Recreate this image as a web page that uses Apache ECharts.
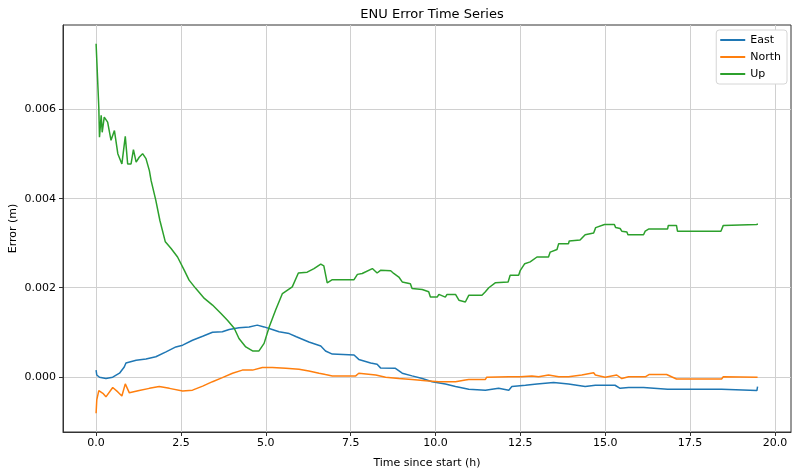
<!DOCTYPE html>
<html>
<head>
<meta charset="utf-8">
<title>ENU Error Time Series</title>
<script src="https://cdn.jsdelivr.net/npm/echarts@6/dist/echarts.min.js"></script>
<style>
	html, body { margin: 0; padding: 0; background: #fff; }
	#MyChart { width: 800px; height: 475px; }
</style>
</head>
<body>
<div id="MyChart"></div>
<script>
// [time (h), error (m)]
var eastPoints = [
	[0, 0.00015], [0.02, 0.00004], [0.1, -0.00001], [0.29, -0.00004], [0.49, -0.00001],
	[0.69, 0.00008], [0.83, 0.00022], [0.88, 0.00031], [1.18, 0.00037], [1.47, 0.0004],
	[1.76, 0.00045], [2.06, 0.00056], [2.35, 0.00067], [2.55, 0.00071], [2.84, 0.00082],
	[3.14, 0.00091], [3.43, 0.001], [3.72, 0.00101], [3.92, 0.00106], [4.21, 0.0011],
	[4.51, 0.00112], [4.75, 0.00116], [4.95, 0.00112], [5.19, 0.00106], [5.39, 0.00101],
	[5.69, 0.00097], [5.9, 0.0009], [6.27, 0.00078], [6.62, 0.00069], [6.76, 0.00058],
	[6.96, 0.00051], [7.6, 0.00049], [7.74, 0.00039], [8.09, 0.00031], [8.28, 0.00028],
	[8.38, 0.0002], [8.82, 0.00019], [9.02, 0.00008], [9.31, 0.00002], [9.61, -0.00004],
	[9.9, -0.00011], [10.29, -0.00016], [10.59, -0.00022], [10.98, -0.00028], [11.47, -0.0003],
	[11.86, -0.00026], [12.16, -0.0003], [12.25, -0.00022], [12.65, -0.00019], [12.99, -0.00016],
	[13.48, -0.00013], [13.53, -0.00011], [13.92, -0.00016], [14.41, -0.00022], [14.71, -0.00019],
	[15.29, -0.00019], [15.44, -0.00026], [15.69, -0.00024], [16.13, -0.00024], [16.18, -0.00028],
	[16.84, -0.00028], [16.86, -0.00031], [17.1, -0.00028], [18.43, -0.00028], [18.45, -0.00031],
	[19.47, -0.00031], [19.49, -0.00022]
];
var northPoints = [
	[0, -0.00082], [0.02, -0.00052], [0.08, -0.00031], [0.2, -0.00037], [0.29, -0.00045],
	[0.49, -0.00024], [0.64, -0.00034], [0.76, -0.00043], [0.86, -0.00016], [0.98, -0.00036],
	[1.27, -0.00031], [1.57, -0.00026], [1.86, -0.00022], [2.16, -0.00026], [2.55, -0.00032],
	[2.84, -0.0003], [3.14, -0.00021], [3.43, -0.00011], [3.72, -0.00002], [4.02, 0.00008],
	[4.31, 0.00015], [4.61, 0.00015], [4.9, 0.00021], [5.19, 0.00021], [5.59, 0.00019],
	[5.98, 0.00017], [6.27, 0.00013], [6.57, 0.00008], [6.76, 0.00005], [6.96, 0.00002],
	[7.65, 0.00002], [7.74, 0.00008], [8.24, 0.00004], [8.53, -0.00001], [8.92, -0.00004],
	[9.31, -0.00006], [9.71, -0.00009], [10.1, -0.00011], [10.59, -0.00011], [10.88, -0.00007],
	[10.98, -0.00006], [11.47, -0.00006], [11.51, -0.00001], [12.16, 0], [12.5, 0],
	[12.84, 0.00002], [13.04, 0], [13.33, 0.00004], [13.63, 0], [13.92, 0],
	[14.31, 0.00004], [14.66, 0.00009], [14.71, 0.00004], [15, -0.00001], [15.34, 0.00004],
	[15.49, -0.00004], [15.69, 0], [16.18, 0], [16.29, 0.00005], [16.81, 0.00005],
	[17.1, -0.00005], [18.43, -0.00005], [18.48, 0], [19.49, -0.00001]
];
var upPoints = [
	[0, 0.00748], [0.08, 0.00605], [0.1, 0.00538], [0.15, 0.00587], [0.18, 0.00549],
	[0.24, 0.00583], [0.29, 0.00587], [0.34, 0.00572], [0.44, 0.00531], [0.54, 0.00553],
	[0.64, 0.00501], [0.76, 0.00478], [0.86, 0.0054], [0.93, 0.00478], [1.03, 0.00478],
	[1.1, 0.0051], [1.18, 0.00482], [1.27, 0.00493], [1.37, 0.00501], [1.47, 0.0049],
	[1.57, 0.00463], [1.62, 0.00441], [1.76, 0.00396], [1.88, 0.00351], [2.04, 0.00303],
	[2.21, 0.00288], [2.4, 0.00269], [2.6, 0.00239], [2.74, 0.00217], [2.94, 0.00198],
	[3.19, 0.00176], [3.43, 0.00161], [3.68, 0.00142], [3.87, 0.00127], [4.07, 0.00109],
	[4.21, 0.00086], [4.41, 0.00067], [4.61, 0.00058], [4.8, 0.00058], [4.95, 0.00075],
	[5.1, 0.00112], [5.29, 0.0015], [5.49, 0.00187], [5.78, 0.00202], [5.96, 0.00233],
	[6.22, 0.00235], [6.42, 0.00243], [6.62, 0.00253], [6.71, 0.00249], [6.81, 0.00211],
	[6.96, 0.00218], [7.6, 0.00218], [7.7, 0.0023], [7.84, 0.00232], [7.89, 0.00235],
	[8.14, 0.00243], [8.28, 0.00233], [8.38, 0.00239], [8.68, 0.00238], [8.77, 0.00232],
	[8.92, 0.00224], [9.02, 0.00213], [9.26, 0.00209], [9.31, 0.00198], [9.61, 0.00196],
	[9.8, 0.00191], [9.85, 0.00179], [10.05, 0.00179], [10.1, 0.00185], [10.29, 0.00179],
	[10.34, 0.00185], [10.59, 0.00185], [10.69, 0.00172], [10.88, 0.00168], [10.98, 0.00183],
	[11.37, 0.00183], [11.47, 0.00191], [11.57, 0.002], [11.76, 0.00211], [12.14, 0.00213],
	[12.2, 0.00228], [12.45, 0.00228], [12.5, 0.00239], [12.63, 0.00254], [12.79, 0.00258],
	[12.99, 0.00269], [13.33, 0.00269], [13.38, 0.0028], [13.58, 0.00286], [13.63, 0.00299],
	[13.92, 0.00299], [13.94, 0.00305], [14.26, 0.00307], [14.41, 0.00319], [14.66, 0.00323],
	[14.72, 0.00335], [14.98, 0.00342], [15.27, 0.00342], [15.31, 0.00335], [15.44, 0.00333],
	[15.49, 0.00327], [15.64, 0.00325], [15.67, 0.00319], [16.13, 0.00319], [16.18, 0.00327],
	[16.29, 0.00332], [16.84, 0.00332], [16.86, 0.0034], [17.1, 0.0034], [17.13, 0.00327],
	[18.41, 0.00327], [18.48, 0.0034], [19.46, 0.00342], [19.5, 0.00343]
];
var seriesNames = ['East', 'North', 'Up'];
var seriesColors = ['#1f77b4', '#ff7f0e', '#2ca02c'];
var xTicks = [0, 2.5, 5, 7.5, 10, 12.5, 15, 17.5, 20];
var yTicks = [0, 0.002, 0.004, 0.006];

var font = 'DejaVu Sans';
var allPoints = [eastPoints, northPoints, upPoints];

var option = {
	animation: false,
	backgroundColor: '#fff',
	color: seriesColors,
	title: {
		text: 'ENU Error Time Series',
		left: 427,
		textAlign: 'center',
		top: 3,
		textStyle: {
			fontFamily: font,
			fontSize: 13,
			fontWeight: 'normal',
			color: '#000'
		}
	},
	legend: {
		data: seriesNames,
		orient: 'vertical',
		right: 13,
		top: 30,
		icon: 'rect',
		itemWidth: 25,
		itemHeight: 2,
		itemGap: 3,
		padding: [3, 6, 3, 4],
		backgroundColor: '#fff',
		borderColor: '#d6d6d6',
		borderWidth: 1,
		borderRadius: 3,
		textStyle: {
			fontFamily: font,
			fontSize: 11,
			lineHeight: 14,
			color: '#000'
		}
	},
	grid: {
		left: 63,
		top: 25,
		width: 728,
		height: 407,
		show: true,
		borderColor: '#333',
		borderWidth: 1,
		containLabel: false,
		outerBoundsMode: 'none'
	},
	xAxis: {
		type: 'value',
		min: -0.975,
		max: 20.475,
		name: 'Time since start (h)',
		nameLocation: 'middle',
		nameGap: 26,
		nameTextStyle: { fontFamily: font, fontSize: 11, color: '#000' },
		axisLine: { show: true, onZero: false, lineStyle: { color: '#333', width: 1 } },
		axisTick: { show: true, length: 4, customValues: xTicks, lineStyle: { color: '#333' } },
		axisLabel: {
			customValues: xTicks,
			margin: 6,
			fontFamily: font,
			fontSize: 11,
			color: '#000',
			formatter: function(v) { return v.toFixed(1); }
		},
		splitLine: { show: true, lineStyle: { color: '#d0d0d0', width: 1 } }
	},
	yAxis: {
		type: 'value',
		min: -0.00124,
		max: 0.0079,
		name: 'Error (m)',
		nameLocation: 'middle',
		nameGap: 44,
		nameMoveOverlap: false,
		nameTextStyle: { fontFamily: font, fontSize: 11, color: '#000' },
		axisLine: { show: true, onZero: false, lineStyle: { color: '#333', width: 1 } },
		axisTick: { show: true, length: 4, customValues: yTicks, lineStyle: { color: '#333' } },
		axisLabel: {
			customValues: yTicks,
			margin: 7,
			fontFamily: font,
			fontSize: 11,
			color: '#000',
			formatter: function(v) { return v.toFixed(3); }
		},
		splitLine: { show: true, lineStyle: { color: '#d0d0d0', width: 1 } }
	},
	series: seriesNames.map(function(name, i) {
		return {
			name: name,
			type: 'line',
			data: allPoints[i],
			showSymbol: false,
			symbol: 'none',
			lineStyle: { width: 1.5, color: seriesColors[i] },
			itemStyle: { color: seriesColors[i] }
		};
	})
};

var myChart1 = echarts.init(document.getElementById('MyChart'));
myChart1.setOption(option);
</script>
</body>
</html>
